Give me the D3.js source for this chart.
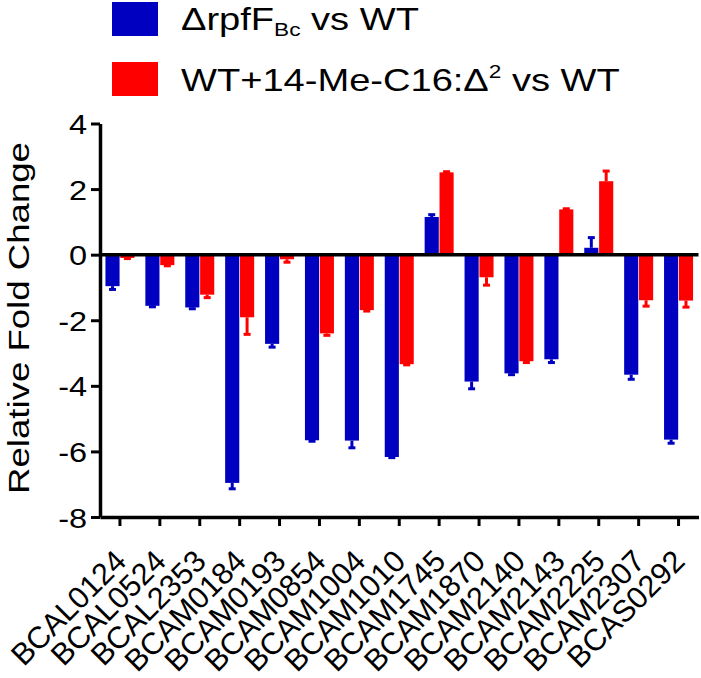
<!DOCTYPE html>
<html>
<head>
<meta charset="utf-8">
<script src="https://cdn.jsdelivr.net/npm/d3@7"></script>
<style>
  html, body { margin: 0; padding: 0; background: #fff; }
  svg { display: block; }
  text { font-family: "Liberation Sans", Arial, Helvetica, sans-serif; fill: #000; }
</style>
</head>
<body>
<svg id="chart" width="701" height="678"></svg>
<script>
// ---- data ----
const genes = ["BCAL0124","BCAL0524","BCAL2353","BCAM0184","BCAM0193","BCAM0854","BCAM1004","BCAM1010","BCAM1745","BCAM1870","BCAM2140","BCAM2143","BCAM2225","BCAM2307","BCAS0292"];
const seriesNames = ["rpf", "me"];
const rpfValues = [-0.96, -1.56, -1.61, -6.96, -2.72, -5.66, -5.67, -6.17, 1.15, -3.87, -3.62, -3.19, 0.21, -3.66, -5.64];
const rpfErrors = [0.10, 0.03, 0.04, 0.18, 0.10, 0.03, 0.22, 0.02, 0.07, 0.22, 0.04, 0.10, 0.31, 0.14, 0.11];
const meValues  = [-0.10, -0.32, -1.22, -1.91, -0.14, -2.40, -1.69, -3.34, 2.51, -0.69, -3.25, 1.38, 2.24, -1.39, -1.40];
const meErrors  = [0.02, 0.02, 0.09, 0.52, 0.09, 0.06, 0.03, 0.02, 0.02, 0.24, 0.04, 0.02, 0.31, 0.18, 0.20];
const yTicks = [4, 2, 0, -2, -4, -6, -8];
const colors = { rpf: "#0000c0", me: "#ff0000" };

const rows = [];
genes.forEach((g, i) => {
  rows.push({ gene: g, s: "rpf", v: rpfValues[i], e: rpfErrors[i] });
  rows.push({ gene: g, s: "me", v: meValues[i], e: meErrors[i] });
});

const svg = d3.select("#chart");
const SX = 1.16; // horizontal text stretch

const x = d3.scaleBand().domain(genes).range([100, 698.5]).padding(0);
const x1 = d3.scaleBand().domain(seriesNames).range([-14.5, 14.5]).paddingInner(0.05);
const y = d3.scaleLinear().domain([-8, 4]).range([517, 123.5]);
const cx = g => x(g) + x.bandwidth() / 2;

// bars
svg.append("g").selectAll("rect").data(rows).join("rect")
  .attr("x", d => cx(d.gene) + x1(d.s))
  .attr("width", x1.bandwidth())
  .attr("y", d => Math.min(y(d.v), y(0)))
  .attr("height", d => Math.abs(y(d.v) - y(0)))
  .attr("fill", d => colors[d.s]);

// error bars (one-sided, away from zero)
const eg = svg.append("g");
rows.forEach(d => {
  const mx = cx(d.gene) + x1(d.s) + x1.bandwidth() / 2;
  const sign = d.v >= 0 ? 1 : -1;
  const y0 = y(d.v), y1 = y(d.v + sign * d.e);
  eg.append("line").attr("x1", mx).attr("x2", mx).attr("y1", y0).attr("y2", y1)
    .attr("stroke", colors[d.s]).attr("stroke-width", 3);
  eg.append("line").attr("x1", mx - 3.5).attr("x2", mx + 3.5).attr("y1", y1).attr("y2", y1)
    .attr("stroke", colors[d.s]).attr("stroke-width", 3);
});

// zero line
svg.append("line").attr("x1", x.range()[0]).attr("x2", x.range()[1])
  .attr("y1", y(0)).attr("y2", y(0)).attr("stroke", "#000").attr("stroke-width", 3.5);

// y axis
const yAxis = svg.append("g").attr("transform", "translate(100,0)")
  .call(d3.axisLeft(y).tickValues(yTicks).tickSize(9).tickSizeOuter(0).tickFormat(d3.format("d")));
yAxis.select(".domain").attr("stroke", "#000").attr("stroke-width", 3.5);
yAxis.selectAll(".tick line").attr("stroke", "#000").attr("stroke-width", 3);
yAxis.selectAll(".tick text").remove();
yAxis.selectAll(".tick").append("g")
  .attr("transform", `translate(-13,0) scale(${SX},1)`)
  .append("text")
  .attr("text-anchor", "end").attr("dy", "0.36em")
  .style("font-size", "28px")
  .text(d => d);

// x axis
const xAxis = svg.append("g").attr("transform", `translate(0,${y(-8)})`)
  .call(d3.axisBottom(x).tickSize(9).tickSizeOuter(0));
xAxis.select(".domain").attr("stroke", "#000").attr("stroke-width", 3.5);
xAxis.selectAll(".tick line").attr("stroke", "#000").attr("stroke-width", 3);
xAxis.selectAll(".tick text").remove();
xAxis.selectAll(".tick").append("text")
  .attr("transform", "translate(8,46) rotate(-45)")
  .attr("text-anchor", "end")
  .style("font-size", "30.5px")
  .text(d => d);

// y title
svg.append("g").attr("transform", "translate(29,318) rotate(-90) scale(1.22,1)")
  .append("text").attr("text-anchor", "middle").style("font-size", "30px")
  .text("Relative Fold Change");

// legend
const LSX = 1.19;
const leg = svg.append("g");
leg.append("rect").attr("x", 112).attr("y", 2).attr("width", 46).attr("height", 34).attr("fill", colors.rpf);
leg.append("rect").attr("x", 112).attr("y", 62).attr("width", 46).attr("height", 34).attr("fill", colors.me);

const t1 = leg.append("g").attr("transform", `translate(181,30) scale(${LSX},1)`)
  .append("text").style("font-size", "32px");
t1.append("tspan").text("\u0394rpfF");
t1.append("tspan").attr("dy", 6).style("font-size", "19px").text("Bc");
t1.append("tspan").attr("dy", -6).text(" vs WT");

const t2 = leg.append("g").attr("transform", `translate(181,91) scale(${LSX},1)`)
  .append("text").style("font-size", "32px");
t2.append("tspan").text("WT+14-Me-C16:\u0394");
t2.append("tspan").attr("dy", -13).style("font-size", "19px").text("2");
t2.append("tspan").attr("dy", 13).text(" vs WT");
</script>
</body>
</html>
